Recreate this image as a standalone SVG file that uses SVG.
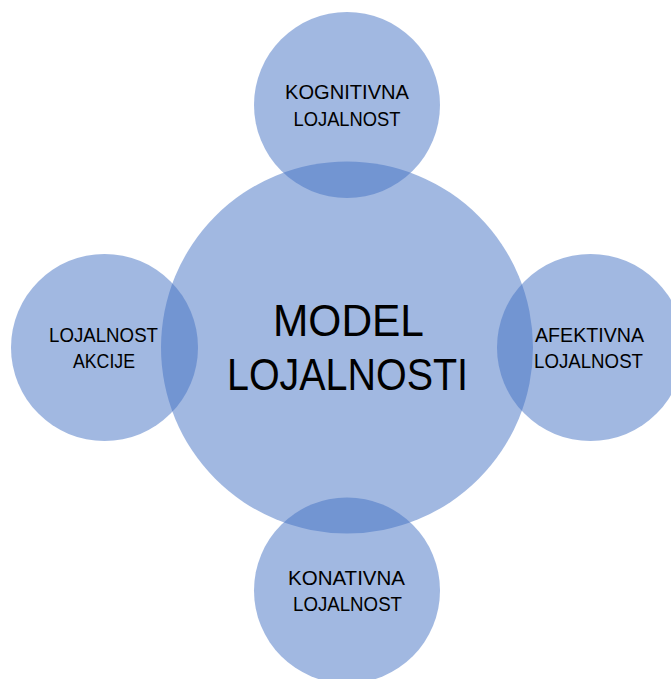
<svg xmlns="http://www.w3.org/2000/svg" width="671" height="679" viewBox="0 0 671 679">
<style>
.c{fill:#4472C4;fill-opacity:0.5}
.t{font-family:"Liberation Sans",Arial,sans-serif;font-size:20px;fill:#000;text-anchor:middle}
.m{font-family:"Liberation Sans",Arial,sans-serif;font-size:44px;fill:#000;text-anchor:middle}
</style>
<rect width="671" height="679" fill="#fff"/>
<g id="center"><circle class="c" cx="347" cy="347.5" r="186"/>
<text class="m" x="348.5" y="336" textLength="151" lengthAdjust="spacingAndGlyphs">MODEL</text><text class="m" x="347.5" y="390" textLength="241" lengthAdjust="spacingAndGlyphs">LOJALNOSTI</text></g>
<g id="top"><circle class="c" cx="347" cy="105" r="93"/>
<text class="t" x="347" y="99" textLength="124" lengthAdjust="spacingAndGlyphs">KOGNITIVNA</text><text class="t" x="347" y="126" textLength="107" lengthAdjust="spacingAndGlyphs">LOJALNOST</text></g>
<g id="left"><circle class="c" cx="104.5" cy="347.5" r="93.5"/>
<text class="t" x="103.5" y="342" textLength="109" lengthAdjust="spacingAndGlyphs">LOJALNOST</text><text class="t" x="104" y="368" textLength="62" lengthAdjust="spacingAndGlyphs">AKCIJE</text></g>
<g id="right"><circle class="c" cx="590.5" cy="347.5" r="93.5"/>
<text class="t" x="589.5" y="342" textLength="109" lengthAdjust="spacingAndGlyphs">AFEKTIVNA</text><text class="t" x="588.5" y="368" textLength="109" lengthAdjust="spacingAndGlyphs">LOJALNOST</text></g>
<g id="bottom"><circle class="c" cx="347" cy="590.5" r="93"/>
<text class="t" x="346.5" y="585" textLength="117" lengthAdjust="spacingAndGlyphs">KONATIVNA</text><text class="t" x="347.5" y="611" textLength="109" lengthAdjust="spacingAndGlyphs">LOJALNOST</text></g>
<g id="connectors"></g>
</svg>
